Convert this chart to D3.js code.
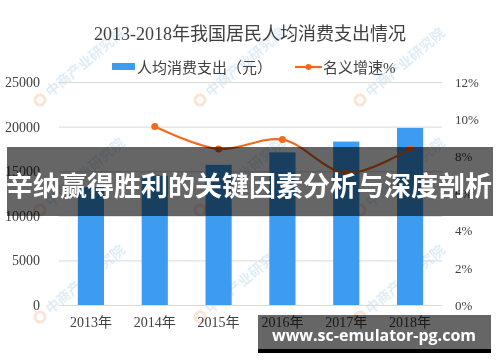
<!DOCTYPE html>
<html>
<head>
<meta charset="utf-8">
<script src="https://cdn.jsdelivr.net/npm/d3@7"></script>
<style>
  html, body { margin: 0; padding: 0; background: #fff; }
  svg { display: block; }
</style>
</head>
<body>
<div id="chart"></div>
<script>
// chart data
const years = ["2013年", "2014年", "2015年", "2016年", "2017年", "2018年"];
const spending = [13220, 14491, 15712, 17111, 18322, 19853];   // 人均消费支出（元）
const growth = [null, 9.6, 8.4, 8.9, 7.1, 8.4];                // 名义增速%
const leftTicks = [0, 5000, 10000, 15000, 20000, 25000];
const rightTicks = [0, 2, 4, 6, 8, 10, 12];

const width = 500, height = 362;
const margin = {top: 82, right: 58, bottom: 57, left: 59};

const serif = '"Liberation Serif", "Noto Sans CJK SC", serif';

const svg = d3.select("#chart").append("svg")
    .attr("width", width)
    .attr("height", height);

// faint diagonal watermarks
const wmPos = [];
[40, 200, 360].forEach(x => [100, 210, 317].forEach(y => wmPos.push([x, y])));
const wm = svg.append("g").attr("opacity", 0.45);
wmPos.forEach(([x, y]) => {
    const g = wm.append("g").attr("transform", `translate(${x},${y}) rotate(-40)`);
    g.append("circle").attr("r", 5).attr("fill", "none")
        .attr("stroke", "#f6c2a4").attr("stroke-width", 3);
    g.append("text").attr("x", 10).attr("y", 5)
        .attr("font-family", '"Noto Sans CJK SC", sans-serif')
        .attr("font-size", 14).attr("font-weight", "bold")
        .attr("fill", "#b8d6ee")
        .text("中商产业研究院");
});

const x = d3.scaleBand()
    .domain(years)
    .range([margin.left, width - margin.right])
    .paddingInner(0.59)
    .paddingOuter(0.295);

const yL = d3.scaleLinear().domain([0, 25000]).range([height - margin.bottom, margin.top]);
const yR = d3.scaleLinear().domain([0, 12]).range([height - margin.bottom, margin.top]);

// gridlines
svg.append("g")
    .attr("transform", `translate(${margin.left},0)`)
    .call(d3.axisLeft(yL).tickValues(leftTicks).tickSize(-(width - margin.left - margin.right)).tickFormat(""))
    .call(g => g.select(".domain").remove())
    .call(g => g.selectAll("line").attr("stroke", "#d9d9d9"));

// left axis labels
svg.append("g")
    .attr("transform", `translate(${margin.left},0)`)
    .call(d3.axisLeft(yL).tickValues(leftTicks).tickSize(0).tickPadding(19).tickFormat(d3.format("d")))
    .call(g => g.select(".domain").remove())
    .call(g => g.selectAll("text").attr("font-family", serif).attr("font-size", 14).attr("fill", "#404040"));

// right axis labels
svg.append("g")
    .attr("transform", `translate(${width - margin.right},0)`)
    .call(d3.axisRight(yR).tickValues(rightTicks).tickSize(0).tickPadding(13).tickFormat(d => d + "%"))
    .call(g => g.select(".domain").remove())
    .call(g => g.selectAll("text").attr("font-family", serif).attr("font-size", 13).attr("fill", "#404040"));

// x axis labels
svg.append("g")
    .attr("transform", `translate(0,${height - margin.bottom})`)
    .call(d3.axisBottom(x).tickSize(0).tickPadding(12))
    .call(g => g.select(".domain").remove())
    .call(g => g.selectAll("text").attr("font-family", serif).attr("font-size", 14).attr("fill", "#404040"));

// bars
svg.append("g")
    .selectAll("rect")
    .data(spending)
    .join("rect")
    .attr("x", (d, i) => x(years[i]))
    .attr("width", x.bandwidth())
    .attr("y", d => yL(d))
    .attr("height", d => yL(0) - yL(d))
    .attr("fill", "#3d9cf0");

// growth line
const pts = growth.map((d, i) => ({year: years[i], v: d})).filter(d => d.v != null);
const line = d3.line()
    .x(d => x(d.year) + x.bandwidth() / 2)
    .y(d => yR(d.v))
    .curve(d3.curveCatmullRom.alpha(0.5));

svg.append("path")
    .datum(pts)
    .attr("d", line)
    .attr("fill", "none")
    .attr("stroke", "#f26a1f")
    .attr("stroke-width", 2.2);

svg.append("g")
    .selectAll("circle")
    .data(pts)
    .join("circle")
    .attr("cx", d => x(d.year) + x.bandwidth() / 2)
    .attr("cy", d => yR(d.v))
    .attr("r", 3.5)
    .attr("fill", "#f26a1f");

// title
svg.append("text")
    .attr("x", 250).attr("y", 40)
    .attr("text-anchor", "middle")
    .attr("font-family", serif)
    .attr("font-size", 18)
    .attr("fill", "#404040")
    .text("2013-2018年我国居民人均消费支出情况");

// legend
const legend = svg.append("g").attr("font-family", serif).attr("font-size", 15).attr("fill", "#404040");
legend.append("rect").attr("x", 112).attr("y", 63).attr("width", 23).attr("height", 7).attr("fill", "#3d9cf0");
legend.append("text").attr("x", 137).attr("y", 73).text("人均消费支出（元）");
legend.append("line").attr("x1", 295).attr("x2", 322).attr("y1", 67).attr("y2", 67)
    .attr("stroke", "#f26a1f").attr("stroke-width", 2.2);
legend.append("circle").attr("cx", 308.5).attr("cy", 67).attr("r", 3).attr("fill", "#f26a1f");
legend.append("text").attr("x", 323).attr("y", 73).text("名义增速%");

// overlay banner
svg.append("rect")
    .attr("x", 7).attr("y", 147).attr("width", 486).attr("height", 69)
    .attr("fill", "#000").attr("fill-opacity", 0.6);
svg.append("text")
    .attr("x", 249).attr("y", 196)
    .attr("text-anchor", "middle")
    .attr("font-family", '"Noto Sans CJK SC", sans-serif')
    .attr("font-size", 27).attr("font-weight", "bold")
    .attr("fill", "#fff")
    .text("辛纳赢得胜利的关键因素分析与深度剖析");

// url box
svg.append("rect")
    .attr("x", 258).attr("y", 315).attr("width", 233).attr("height", 34)
    .attr("fill", "#000").attr("fill-opacity", 0.6);
svg.append("rect")
    .attr("x", 258).attr("y", 349).attr("width", 233).attr("height", 4)
    .attr("fill", "#000");
svg.append("text")
    .attr("x", 374).attr("y", 341)
    .attr("text-anchor", "middle")
    .attr("font-family", '"Open Sans", sans-serif')
    .attr("font-size", 16).attr("font-weight", "bold")
    .attr("fill", "#fff")
    .text("www.sc-emulator-pg.com");
</script>
</body>
</html>
